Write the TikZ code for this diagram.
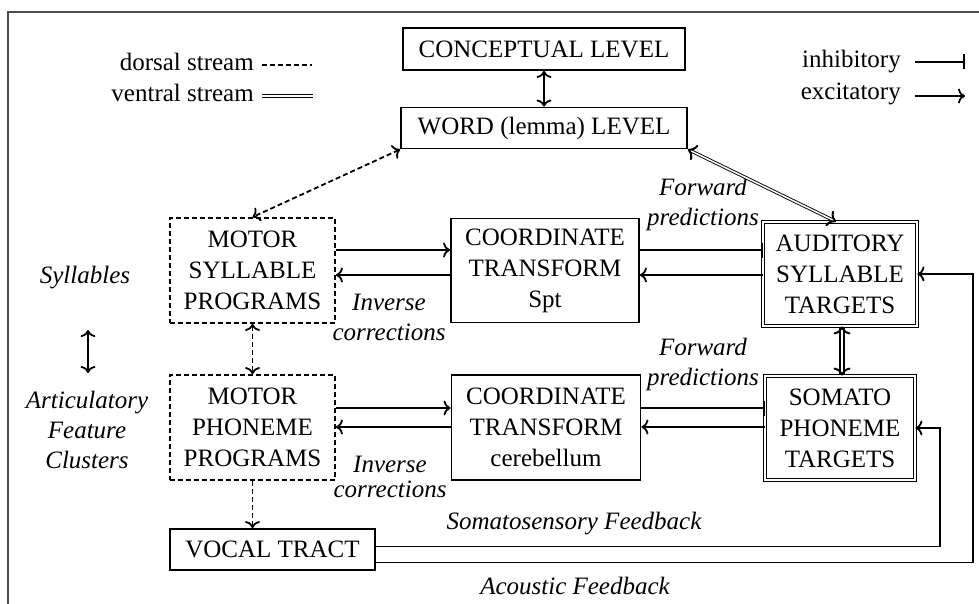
\documentclass[tikz,border=0pt]{standalone}
\usepackage{fontspec}
\setmainfont{Liberation Serif}
\usetikzlibrary{arrows.meta}

\begin{document}
\begin{tikzpicture}[x=1pt,y=-1pt,line width=1.8pt,
	>={Computer Modern Rightarrow[length=7pt,width=15pt]},
	every node/.style={font=\fontsize{25}{31}\selectfont},
	block/.style={draw,align=center,inner sep=0pt},
	dblock/.style={block,dash pattern=on 5pt off 3pt},
	tblock/.style={block,double,double distance=1.8pt,line width=0.9pt},
	lab/.style={align=center,font=\fontsize{25}{30}\selectfont\itshape},
	strm/.style={dash pattern=on 5pt off 3pt},
	vent/.style={double,double distance=1.5pt,line width=0.9pt,
		{Computer Modern Rightarrow[length=8pt,width=17pt,line width=2pt]}-{Computer Modern Rightarrow[length=8pt,width=17pt,line width=2pt]}}]
		\useasboundingbox (0,0) rectangle (979,604);
		\draw[black!70,line width=1.4pt] (979,12) -- (8,12) -- (8,604);
		% boxes
		\node[block,minimum width=282pt,minimum height=42pt] (cl) at (544,49) {CONCEPTUAL LEVEL};
		\node[block,minimum width=286pt,minimum height=41pt] (wl) at (544,128) {WORD (lemma) LEVEL};
		\node[dblock,minimum width=165pt,minimum height=105pt] (msp) at (252.5,270.5) {MOTOR\\SYLLABLE\\PROGRAMS};
		\node[block,minimum width=188pt,minimum height=104pt] (cts) at (545,270.5) {COORDINATE\\TRANSFORM\\Spt};
		\node[tblock,minimum width=154pt,minimum height=104pt] (ast) at (840,274) {AUDITORY\\SYLLABLE\\TARGETS};
		\node[dblock,minimum width=165pt,minimum height=105pt] (mpp) at (252.5,427.5) {MOTOR\\PHONEME\\PROGRAMS};
		\node[block,minimum width=189pt,minimum height=105pt] (ctc) at (546,427.5) {COORDINATE\\TRANSFORM\\cerebellum};
		\node[tblock,minimum width=150pt,minimum height=104pt] (spt) at (840,428) {SOMATO\\PHONEME\\TARGETS};
		\node[block,minimum width=205pt,minimum height=41pt] (vt) at (272.5,549.5) {VOCAL TRACT};
		% labels
		\node[lab] (fp1) at (703,204) {Forward\\predictions};
		\node[lab] (ic1) at (389,317) {Inverse\\corrections};
		\node[lab] (fp2) at (703,364) {Forward\\predictions};
		\node[lab] (ic2) at (390,477) {Inverse\\[-5pt]corrections};
		\node[lab] (syl) at (85,278) {Syllables};
		\node[lab] (art) at (87,430) {Articulatory\\Feature\\Clusters};
		\node[lab] (sfbl) at (574,524) {Somatosensory Feedback};
		\node[lab] (afbl) at (575,586) {Acoustic Feedback};
		% legend
		\node[anchor=east] (ds) at (258,62) {dorsal stream};
		\node[anchor=east] (vs) at (258,93) {ventral stream};
		\node[anchor=east] (inh) at (905,62) {inhibitory};
		\node[anchor=east] (exc) at (905,94) {excitatory};
		\draw[strm] ([xshift=4pt,yshift=-3pt]ds.east) -- ++(50,0);
		\draw[double,double distance=1.5pt,line width=0.9pt] ([xshift=4pt,yshift=-3pt]vs.east) -- ++(51,0);
		\draw[-{Bar[width=15pt]}] ([xshift=10pt]inh.east) -- ++(50,0);
		\draw[->] ([xshift=10pt,yshift=-2pt]exc.east) -- ++(50,0);
		% connections
		\draw[<->] (cl) -- (wl);
		\draw[strm,<->] (wl.south west) -- (msp.north);
		\draw[vent] (wl.south east) -- ([xshift=-4pt]ast.north);
		\draw[->] ([yshift=20.5pt]msp.east) -- ([yshift=20.5pt]cts.west);
		\draw[->] ([yshift=-4.5pt]cts.west) -- ([yshift=-4.5pt]msp.east);
		\draw[-{Bar[width=15pt]}] ([yshift=20.5pt]cts.east) -- ([yshift=24pt]ast.west);
		\draw[->] ([yshift=-1pt]ast.west) -- ([yshift=-4.5pt]cts.east);
		\draw[->] ([yshift=19.5pt]mpp.east) -- ([yshift=19.5pt]ctc.west);
		\draw[->] ([yshift=0.5pt]ctc.west) -- ([yshift=0.5pt]mpp.east);
		\draw[-{Bar[width=15pt]}] ([yshift=19.5pt]ctc.east) -- ([yshift=20pt]spt.west);
		\draw[->] ([yshift=1pt]spt.west) -- ([yshift=0.5pt]ctc.east);
		\draw[vent,double distance=2.5pt,line width=1.4pt] ([xshift=2pt]ast.south) -- ([xshift=2pt]spt.north);
		\draw[strm,<->] (msp) -- (mpp);
		\draw[strm,->] (mpp.south) -- (mpp.south |- vt.north);
		\coordinate (ltop) at (88,330);
		\coordinate (lbot) at (88,373);
		\draw[<->] (ltop) -- (lbot);
		\coordinate (sbend) at (940,428);
		\coordinate (abend) at (973,274);
		\draw[->] ([yshift=3pt]vt.east) -| (sbend) -- (spt.east);
		\draw[->] ([yshift=-13pt]vt.east) -| (abend) -- (ast.east);
	\end{tikzpicture}
\end{document}
